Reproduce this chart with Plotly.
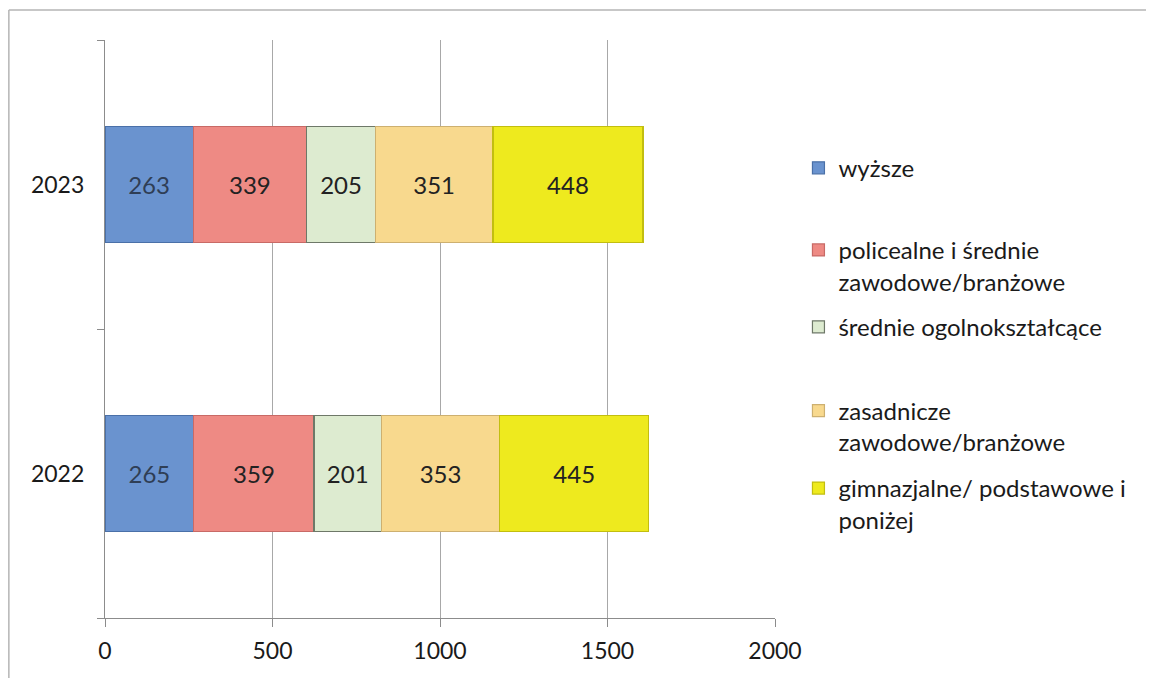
import plotly.graph_objects as go

years = ["2022", "2023"]
series_names = [
    "wyższe",
    "policealne i średnie<br>zawodowe/branżowe",
    "średnie ogolnokształcące",
    "zasadnicze<br>zawodowe/branżowe",
    "gimnazjalne/ podstawowe i<br>poniżej",
]
wyzsze = [265, 263]
policealne = [359, 339]
srednie_ogol = [201, 205]
zasadnicze = [353, 351]
gimnazjalne = [445, 448]
series_values = [wyzsze, policealne, srednie_ogol, zasadnicze, gimnazjalne]

colors = ["#6A93CF", "#EE8A84", "#DDEBD0", "#F8D98E", "#EEEA1E"]
edge = ["#4A70A8", "#C86A66", "#6E7868", "#CDB070", "#C2BE10"]
text_colors = ["#2F3E55", "#222222", "#222222", "#222222", "#222222"]

# legend placement (paper coords), one legend per entry to mimic spacing
legend_y = [0.817, 0.675, 0.542, 0.397, 0.263]

FONT = "Lato, Calibri, Carlito, sans-serif"

fig = go.Figure()
for i, (name, vals) in enumerate(zip(series_names, series_values)):
    lg = "legend" if i == 0 else f"legend{i+1}"
    fig.add_trace(go.Bar(
        y=years, x=vals, name=name, orientation="h",
        marker=dict(color=colors[i], line=dict(color=edge[i], width=1.2)),
        text=[str(v) for v in vals], textposition="inside",
        insidetextanchor="middle",
        textfont=dict(size=24, color=text_colors[i], family=FONT),
        legend=lg,
    ))

layout_legends = {}
for i, ly in enumerate(legend_y):
    key = "legend" if i == 0 else f"legend{i+1}"
    layout_legends[key] = dict(
        x=1.035, y=ly, xanchor="left", yanchor="top",
        font=dict(size=24, color="#1a1a1a", family=FONT),
        bgcolor="rgba(0,0,0,0)", itemwidth=30, valign="top",
        tracegroupgap=0,
    )

fig.update_layout(
    width=1146, height=670,
    margin=dict(l=97, r=379, t=32, b=60),
    paper_bgcolor="white", plot_bgcolor="white",
    barmode="stack", bargap=0.6,
    font=dict(family=FONT, size=23, color="#1a1a1a"),
    showlegend=True,
    **layout_legends,
    xaxis=dict(
        range=[0, 2000], tickvals=[0, 500, 1000, 1500, 2000],
        showgrid=True, gridcolor="#A8A8A8", gridwidth=1,
        showline=True, linecolor="#8C8C8C", linewidth=1.2,
        ticks="outside", ticklen=8, tickcolor="#8C8C8C",
        tickfont=dict(size=23, family=FONT, color="#1a1a1a"),
        ticklabelstandoff=4,
        zeroline=False, fixedrange=True,
    ),
    yaxis=dict(
        type="category", categoryorder="array", categoryarray=years,
        showline=True, linecolor="#8C8C8C", linewidth=1.2,
        ticks="outside", ticklen=7, tickcolor="#8C8C8C",
        tickson="boundaries", showgrid=False,
        tickfont=dict(size=23, family=FONT, color="#1a1a1a"),
        ticklabelstandoff=15,
    ),
    shapes=[
        dict(type="line", xref="paper", yref="paper",
             x0=-0.1435, x1=1.6, y0=1.052, y1=1.052,
             line=dict(color="#B5B5B5", width=1.5)),
        dict(type="line", xref="paper", yref="paper",
             x0=-0.1435, x1=-0.1435, y0=1.052, y1=-0.2,
             line=dict(color="#B5B5B5", width=1.5)),
    ],
)

fig.write_html("out.html")
